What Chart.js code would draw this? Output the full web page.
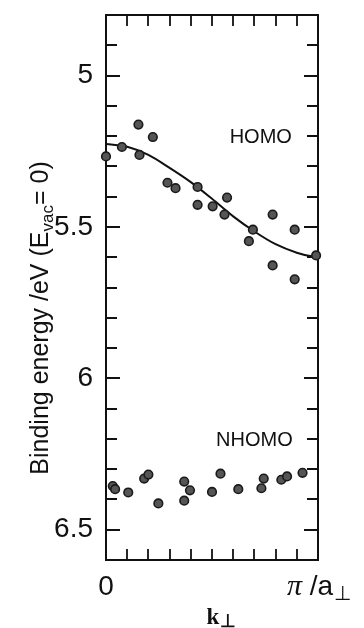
<!DOCTYPE html>
<html>
<head>
<meta charset="utf-8">
<script src="https://cdn.jsdelivr.net/npm/chart.js@4/dist/chart.umd.min.js"></script>
<style>
  html, body { margin: 0; padding: 0; background: #fff; }
  #wrap { width: 364px; height: 628px; position: relative; }
</style>
</head>
<body>
<div id="wrap"><canvas id="c"></canvas></div>
<script>
// ---- data ----
const homoK = [0.000, 0.075, 0.153, 0.158, 0.221, 0.290, 0.328, 0.432, 0.432, 0.503, 0.559, 0.571, 0.674, 0.693, 0.786, 0.786, 0.890, 0.890, 0.991];
const homoE = [5.267, 5.236, 5.162, 5.262, 5.203, 5.354, 5.372, 5.368, 5.427, 5.432, 5.459, 5.403, 5.547, 5.509, 5.459, 5.627, 5.509, 5.673, 5.594];
const nhomoK = [0.032, 0.043, 0.105, 0.180, 0.200, 0.247, 0.369, 0.369, 0.396, 0.500, 0.540, 0.624, 0.733, 0.744, 0.827, 0.854, 0.927];
const nhomoE = [6.356, 6.366, 6.377, 6.331, 6.318, 6.413, 6.341, 6.404, 6.370, 6.375, 6.315, 6.366, 6.363, 6.331, 6.335, 6.324, 6.312];
const fitK = [0.00, 0.10, 0.20, 0.30, 0.40, 0.50, 0.60, 0.70, 0.80, 0.90, 0.97, 1.00];
const fitE = [5.226, 5.235, 5.262, 5.305, 5.352, 5.407, 5.465, 5.515, 5.557, 5.585, 5.597, 5.598];
const yTickValues = [5, 5.5, 6, 6.5];
const yTickLabels = ['5', '5.5', '6', '6.5'];
const yMinorTicks = [4.9, 5.0, 5.1, 5.2, 5.3, 5.4, 5.5, 5.6, 5.7, 5.8, 5.9, 6.0, 6.1, 6.2, 6.3, 6.4, 6.5];
const xMinorTicks = [0.1, 0.2, 0.3, 0.4, 0.5, 0.6, 0.7, 0.8, 0.9];
const xTickLabelLeft = '0';
const yTitleParts = ['Binding energy /eV (E', 'vac', '= 0)'];
const bandLabels = ['HOMO', 'NHOMO'];
const xTitle = ['k', '\u22A5'];
const xRightLabel = ['\u03C0', ' /a', '\u22A5'];

const toXY = (xs, ys) => xs.map((x, i) => ({ x: x, y: ys[i] }));

const INK = '#111';
const SANS = '"Liberation Sans", Arial, Helvetica, sans-serif';
const SERIF = '"Liberation Serif", "Times New Roman", serif';

const framePlugin = {
  id: 'frame',
  beforeDatasetsDraw(chart) {
    const ctx = chart.ctx, a = chart.chartArea;
    const xs = chart.scales.x, ys = chart.scales.y;
    ctx.save();
    ctx.strokeStyle = INK;
    ctx.lineWidth = 2;
    ctx.strokeRect(a.left, a.top, a.right - a.left, a.bottom - a.top);
    ctx.lineWidth = 1.8;
    ctx.beginPath();
    yMinorTicks.forEach(v => {
      const py = Math.round(ys.getPixelForValue(v));
      const major = yTickValues.some(t => Math.abs(t - v) < 1e-6);
      const len = major ? 14 : 11;
      ctx.moveTo(a.left, py); ctx.lineTo(a.left + len, py);
      ctx.moveTo(a.right, py); ctx.lineTo(a.right - len, py);
    });
    xMinorTicks.forEach(v => {
      const px = Math.round(xs.getPixelForValue(v));
      ctx.moveTo(px, a.top); ctx.lineTo(px, a.top + 11);
      ctx.moveTo(px, a.bottom); ctx.lineTo(px, a.bottom - 11);
    });
    ctx.stroke();
    ctx.restore();
  },
  afterDraw(chart) {
    const ctx = chart.ctx, a = chart.chartArea;
    const xs = chart.scales.x, ys = chart.scales.y;
    ctx.save();
    ctx.fillStyle = INK;
    ctx.textBaseline = 'alphabetic';

    // band labels
    ctx.font = '20px ' + SANS;
    ctx.textAlign = 'center';
    ctx.fillText(bandLabels[0], xs.getPixelForValue(0.73), ys.getPixelForValue(5.2) + 7);
    ctx.fillText(bandLabels[1], xs.getPixelForValue(0.70), ys.getPixelForValue(6.2) + 7);

    // x tick labels
    ctx.font = '28px ' + SANS;
    ctx.fillText(xTickLabelLeft, xs.getPixelForValue(0), a.bottom + 35);
    ctx.textAlign = 'left';
    let x0 = xs.getPixelForValue(1) - 31;
    ctx.font = 'italic 30px ' + SERIF;
    ctx.fillText(xRightLabel[0], x0, a.bottom + 35);
    x0 += ctx.measureText(xRightLabel[0]).width;
    ctx.font = '28px ' + SANS;
    ctx.fillText(xRightLabel[1], x0, a.bottom + 35);
    x0 += ctx.measureText(xRightLabel[1]).width + 1;
    ctx.font = '20px ' + SANS;
    ctx.fillText(xRightLabel[2], x0, a.bottom + 40);

    // x title
    ctx.font = 'bold 23px ' + SERIF;
    const kw = ctx.measureText(xTitle[0]).width;
    ctx.font = 'bold 18px ' + SERIF;
    const pw = ctx.measureText(xTitle[1]).width;
    let xt = (a.left + a.right) / 2 + 9 - (kw + pw) / 2;
    ctx.font = 'bold 23px ' + SERIF;
    ctx.fillText(xTitle[0], xt, a.bottom + 64);
    ctx.font = 'bold 18px ' + SERIF;
    ctx.fillText(xTitle[1], xt + kw + 1, a.bottom + 67);

    // y title (rotated, with subscript)
    ctx.translate(48, 318);
    ctx.rotate(-Math.PI / 2);
    ctx.font = '25px ' + SANS;
    const w1 = ctx.measureText(yTitleParts[0]).width;
    const w3 = ctx.measureText(yTitleParts[2]).width;
    ctx.font = '17px ' + SANS;
    const w2 = ctx.measureText(yTitleParts[1]).width;
    let tx = -(w1 + w2 + w3) / 2;
    ctx.font = '25px ' + SANS;
    ctx.fillText(yTitleParts[0], tx, 0);
    tx += w1;
    ctx.font = '17px ' + SANS;
    ctx.fillText(yTitleParts[1], tx, 5);
    tx += w2;
    ctx.font = '25px ' + SANS;
    ctx.fillText(yTitleParts[2], tx, 0);
    ctx.restore();
  }
};

const pointStyle = {
  showLine: false,
  pointRadius: 4.3,
  pointBackgroundColor: '#555',
  pointBorderColor: '#1a1a1a',
  pointBorderWidth: 1.6,
  clip: false
};

new Chart(document.getElementById('c'), {
  type: 'scatter',
  data: {
    datasets: [
      Object.assign({ label: 'HOMO', data: toXY(homoK, homoE) }, pointStyle),
      Object.assign({ label: 'NHOMO', data: toXY(nhomoK, nhomoE) }, pointStyle),
      {
        type: 'line',
        label: 'fit',
        data: toXY(fitK, fitE),
        borderColor: INK,
        borderWidth: 2,
        pointRadius: 0,
        fill: false,
        cubicInterpolationMode: 'monotone',
        clip: false
      }
    ]
  },
  options: {
    responsive: true,
    maintainAspectRatio: false,
    animation: false,
    devicePixelRatio: 1,
    layout: { padding: { left: 0, right: 46, top: 15, bottom: 68 } },
    plugins: { legend: { display: false }, tooltip: { enabled: false } },
    scales: {
      x: {
        type: 'linear', min: 0, max: 1, display: false
      },
      y: {
        type: 'linear', min: 4.8, max: 6.6, reverse: true,
        grid: { display: false },
        border: { display: false },
        afterBuildTicks(scale) { scale.ticks = yTickValues.map(v => ({ value: v })); },
        afterFit(scale) { scale.width = 106; scale.paddingTop = 0; scale.paddingBottom = 0; },
        ticks: {
          autoSkip: false,
          padding: 5,
          color: INK,
          font: { family: SANS, size: 28 },
          callback(value) {
            const i = yTickValues.findIndex(t => Math.abs(t - value) < 1e-6);
            return i >= 0 ? yTickLabels[i] : '';
          }
        }
      }
    }
  },
  plugins: [framePlugin]
});
</script>
</body>
</html>
